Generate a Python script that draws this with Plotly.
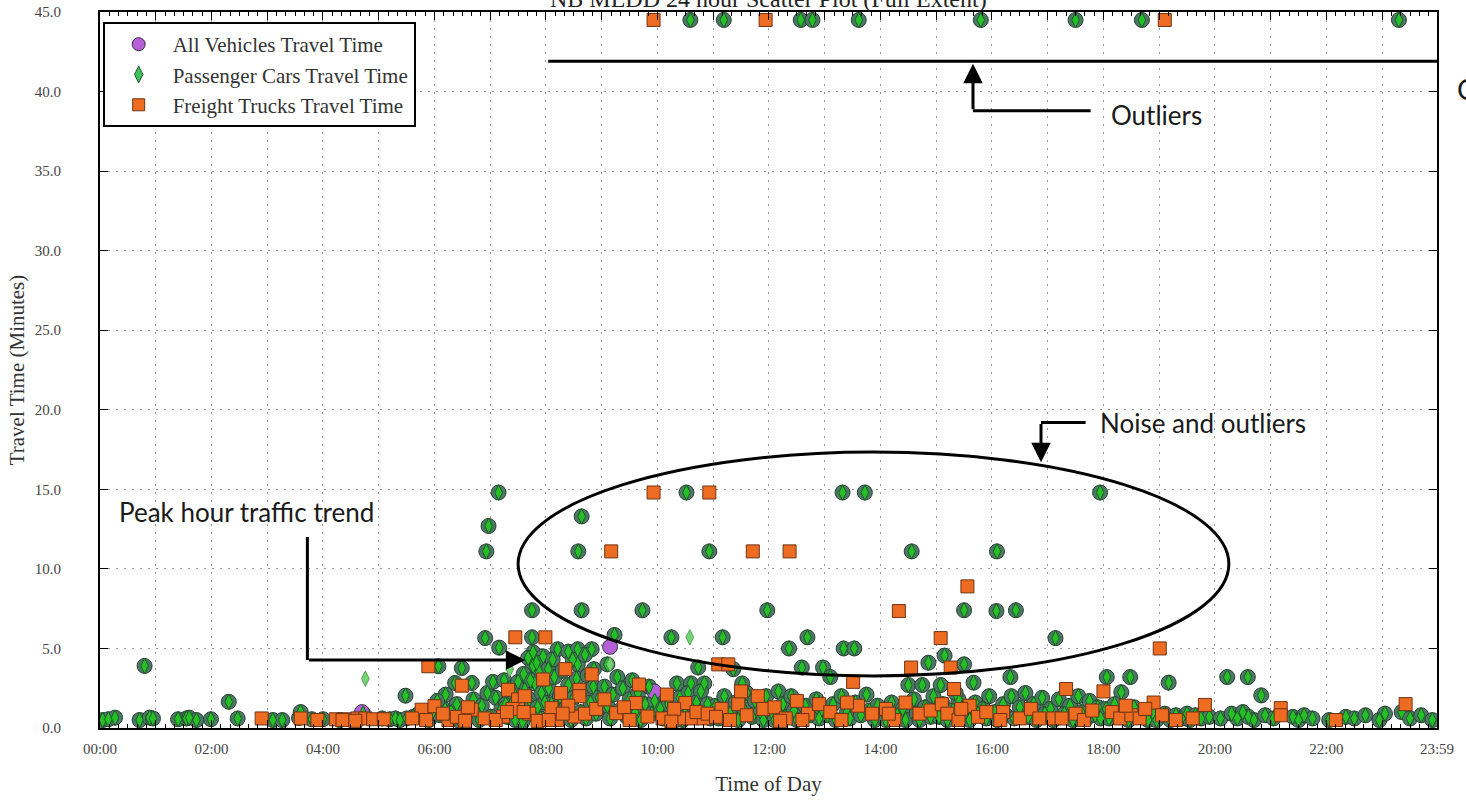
import plotly.graph_objects as go

# ---------------- data (time of day in decimal hours, travel time in minutes) ----------------
# points where All Vehicles and Passenger Cars coincide
common_hours = [
    0.05, 0.15, 0.27, 0.71, 0.80, 0.89, 0.95,
    1.40, 1.55, 1.60, 1.73, 1.99, 2.31, 2.47,
    3.10, 3.27, 3.57, 3.60, 3.80,
    4.00, 4.30, 4.72, 5.06, 5.20, 5.30, 5.38, 5.48, 5.50, 5.62, 5.70, 5.80, 5.90, 5.95,
    6.07, 6.49, 6.37, 6.67, 6.19, 6.10, 6.25, 6.30, 6.40, 6.45, 6.55, 6.60, 6.70, 6.75, 6.80, 6.85,
    6.91, 6.93, 6.97, 6.95, 6.20, 6.05,
    7.15, 7.16, 7.75, 7.75, 7.77, 7.95, 7.68, 7.77, 7.05, 7.10, 7.20, 7.25, 7.30, 7.35, 7.40, 7.45,
    7.50, 7.55, 7.60, 7.62, 7.65, 7.70, 7.80, 7.85, 7.88, 7.90, 7.92, 7.98, 7.02, 7.28, 7.42, 7.58,
    7.72, 7.83,
    8.04, 8.21, 8.40, 8.57, 8.57, 8.58, 8.64, 8.64, 8.82, 8.86, 8.05, 8.10, 8.15, 8.20, 8.25, 8.30,
    8.35, 8.40, 8.45, 8.50, 8.55, 8.62, 8.68, 8.72, 8.75, 8.80, 8.85, 8.90, 8.95, 8.12, 8.48, 8.70,
    9.10, 9.23, 9.73, 9.05, 9.10, 9.15, 9.20, 9.28, 9.32, 9.38, 9.45, 9.50, 9.55, 9.60, 9.65, 9.70,
    9.78, 9.85, 9.90, 9.95,
    10.25, 10.52, 10.59, 10.35, 10.60, 10.73, 10.84, 10.05, 10.10, 10.15, 10.20, 10.30, 10.40, 10.45,
    10.50, 10.55, 10.65, 10.70, 10.78, 10.80, 10.90, 10.93, 10.95,
    11.17, 11.19, 11.36, 11.52, 11.97, 11.05, 11.10, 11.20, 11.30, 11.40, 11.45, 11.55, 11.60, 11.70,
    11.75, 11.85, 11.90, 11.95,
    12.36, 12.69, 12.59, 12.97, 12.17, 12.57, 12.78, 12.05, 12.10, 12.25, 12.30, 12.40, 12.45, 12.50,
    12.65, 12.75, 12.85, 12.90, 12.95,
    13.32, 13.72, 13.34, 13.53, 13.10, 13.61, 13.05, 13.15, 13.20, 13.30, 13.40, 13.45, 13.55, 13.65,
    13.75, 13.80, 13.90, 13.95,
    14.56, 14.50, 14.75, 14.86, 14.05, 14.10, 14.20, 14.30, 14.40, 14.45, 14.60, 14.65, 14.70, 14.80,
    14.90, 14.95,
    15.50, 15.50, 15.15, 15.67, 15.08, 15.80, 15.05, 15.12, 15.20, 15.30, 15.40, 15.45, 15.55, 15.60,
    15.70, 15.75, 15.85, 15.90, 15.95, 15.35,
    16.08, 16.43, 16.09, 16.33, 16.05, 16.10, 16.20, 16.25, 16.35, 16.40, 16.50, 16.60, 16.65, 16.75,
    16.80, 16.90, 16.95,
    17.14, 17.50, 17.94, 17.05, 17.10, 17.20, 17.30, 17.40, 17.45, 17.55, 17.60, 17.70, 17.75, 17.85,
    17.90, 17.95,
    18.06, 18.48, 18.32, 18.69, 18.05, 18.10, 18.20, 18.25, 18.35, 18.45, 18.55, 18.60, 18.70, 18.80,
    18.90, 18.95,
    19.17, 19.10, 19.20, 19.30, 19.40, 19.50, 19.55, 19.65, 19.75, 19.90,
    20.22, 20.59, 20.83, 20.10, 20.30, 20.40, 20.50, 20.60, 20.70, 20.90,
    21.05, 21.40, 21.50, 21.60, 21.75,
    22.05, 22.35, 22.50, 22.70, 22.95, 23.05, 23.30, 23.35, 23.50, 23.70, 23.90,
]
common_minutes = [
    0.50, 0.55, 0.65, 0.50, 3.90, 0.65, 0.60,
    0.55, 0.60, 0.65, 0.50, 0.55, 1.65, 0.60,
    0.50, 0.50, 0.63, 1.00, 0.55,
    0.55, 0.50, 0.90, 0.60, 0.55, 0.60, 0.50, 2.03, 0.60, 0.70, 0.85, 0.60, 0.50, 0.90,
    3.88, 3.77, 2.83, 2.83, 1.15, 0.80, 0.60, 1.00, 1.50, 0.45, 1.20, 0.70, 1.80, 1.00, 0.50, 1.40,
    5.65, 11.10, 12.70, 2.20, 2.10, 1.70,
    14.80, 5.05, 7.40, 5.70, 4.75, 4.50, 4.40, 3.90, 2.90, 1.90, 1.20, 3.00, 0.70, 2.50, 1.60, 0.50,
    2.90, 1.10, 3.40, 2.40, 0.80, 1.80, 2.80, 1.30, 3.50, 0.60, 2.20, 1.60, 0.70, 1.50, 2.20, 0.40,
    3.00, 4.10,
    3.70, 4.95, 4.80, 4.95, 4.00, 11.10, 13.30, 7.40, 4.95, 3.70, 2.50, 1.50, 3.20, 0.80, 2.00, 3.60,
    1.20, 2.70, 0.50, 1.90, 3.10, 1.00, 2.30, 0.60, 3.30, 1.60, 2.60, 0.90, 1.90, 4.30, 4.30, 4.60,
    4.00, 5.85, 7.40, 2.60, 1.40, 0.60, 2.10, 3.20, 1.10, 2.50, 0.70, 1.80, 3.00, 1.00, 2.20, 0.50,
    1.50, 2.60, 0.90, 1.70,
    5.70, 14.80, 44.50, 2.80, 2.80, 3.80, 2.80, 1.20, 0.60, 2.00, 1.50, 0.80, 1.90, 0.50,
    1.30, 2.20, 0.70, 1.60, 2.30, 0.90, 1.50, 11.10, 0.60,
    5.70, 44.50, 3.70, 2.80, 7.40, 1.40, 0.60, 2.00, 0.90, 1.60, 0.50, 1.20, 2.20, 0.70,
    1.70, 1.00, 0.50, 2.00,
    5.00, 5.70, 3.80, 3.80, 2.30, 44.50, 44.50, 1.00, 0.50, 1.50, 0.70, 2.00, 1.10, 0.50,
    1.40, 0.80, 1.80, 0.60, 1.20,
    14.80, 14.80, 5.00, 5.00, 3.20, 44.50, 0.80, 1.50, 0.50, 2.00, 1.00, 0.60, 1.60, 0.80,
    2.10, 1.10, 0.50, 1.40,
    11.10, 2.70, 2.70, 4.10, 1.00, 0.50, 1.60, 0.80, 1.20, 0.50, 1.80, 0.90, 0.50, 1.30,
    0.70, 2.00,
    7.40, 4.00, 4.55, 2.85, 2.70, 44.50, 0.70, 1.50, 0.50, 1.10, 1.80, 0.60, 1.30, 0.50,
    1.60, 0.90, 1.20, 0.60, 2.00, 2.20,
    7.35, 7.40, 11.10, 3.20, 1.00, 0.50, 1.50, 0.80, 2.00, 0.60, 1.30, 2.20, 0.70, 1.50,
    0.50, 1.90, 0.90,
    5.65, 44.50, 14.80, 1.20, 0.50, 1.80, 0.90, 1.40, 0.50, 2.00, 1.00, 0.60, 1.70, 0.80,
    1.30, 0.60,
    3.20, 3.20, 2.25, 44.50, 1.20, 0.60, 1.50, 0.80, 1.00, 0.50, 1.30, 0.70, 1.10, 0.50,
    0.90, 0.50,
    2.85, 0.90, 0.50, 0.80, 0.60, 0.90, 0.50, 0.80, 0.60, 0.70,
    3.20, 3.20, 2.05, 0.60, 0.90, 0.60, 1.00, 0.70, 0.50, 0.80,
    0.60, 0.70, 0.50, 0.80, 0.60,
    0.50, 0.70, 0.60, 0.80, 0.50, 0.90, 44.50, 1.00, 0.60, 0.80, 0.50,
]

# All Vehicles points without a matching Passenger Cars point
all_only_hours = [4.70, 9.15, 9.94]
all_only_minutes = [1.00, 5.10, 2.30]

# Passenger Cars points without a matching All Vehicles point
car_only_hours = [4.76, 7.35, 9.15, 10.58]
car_only_minutes = [3.10, 3.70, 4.00, 5.70]

# Freight Trucks
truck_hours = [
    2.90, 3.60, 3.90, 4.23, 4.46, 4.62, 4.76, 4.90, 5.09, 4.35, 4.58,
    5.77, 5.89, 6.00, 5.60, 5.85,
    6.49, 6.25, 6.67, 6.15, 6.40, 6.60, 6.90, 6.55,
    7.45, 7.99, 7.95, 7.32, 7.50, 7.62, 7.23, 7.10, 7.40, 7.70, 7.85, 7.60, 7.30,
    8.35, 8.82, 8.27, 8.60, 8.60, 8.10, 8.51, 8.20, 8.40, 8.70, 8.90, 8.30, 8.05,
    9.17, 9.93, 9.67, 9.05, 9.26, 9.61, 9.82, 9.40, 9.50, 9.93,
    10.17, 10.50, 10.09, 10.42, 10.62, 10.83, 10.93, 10.30, 10.70, 10.25, 10.90,
    11.09, 11.27, 11.71, 11.94, 11.15, 11.30, 11.45, 11.60, 11.80, 11.90, 11.50, 11.05,
    12.37, 12.10, 12.30, 12.50, 12.70, 12.90, 12.20, 12.60,
    13.51, 13.10, 13.30, 13.60, 13.85, 13.40,
    14.33, 14.55, 14.10, 14.25, 14.45, 14.70, 14.90, 14.15,
    15.56, 15.08, 15.26, 15.32, 15.10, 15.20, 15.40, 15.60, 15.75, 15.90, 15.45,
    16.20, 16.50, 16.70, 16.85, 16.15,
    17.33, 17.10, 17.25, 17.50, 17.65, 17.80,
    18.00, 18.90, 18.15, 18.30, 18.50, 18.65, 18.75, 18.40,
    19.01, 19.10, 19.82, 19.05, 19.60, 19.30,
    21.18, 21.18, 22.17, 23.42,
]
truck_minutes = [
    0.60, 0.60, 0.50, 0.55, 0.55, 0.60, 0.60, 0.55, 0.55, 0.50, 0.45,
    1.15, 3.88, 1.37, 0.60, 0.50,
    2.66, 0.50, 1.15, 0.90, 0.70, 1.30, 0.60, 0.45,
    5.70, 5.70, 3.05, 2.40, 1.80, 2.00, 0.72, 0.50, 1.20, 0.90, 0.45, 1.00, 1.00,
    3.70, 3.37, 2.20, 2.40, 2.00, 1.25, 0.72, 0.50, 1.40, 0.90, 1.20, 0.90, 0.50,
    11.10, 14.80, 2.73, 1.80, 0.93, 1.57, 0.72, 1.30, 0.50, 44.50,
    2.10, 1.57, 0.60, 0.60, 0.60, 0.60, 14.80, 1.20, 1.00, 0.40, 0.90,
    4.00, 4.00, 11.10, 44.50, 1.20, 0.50, 1.50, 0.80, 2.00, 1.20, 2.30, 0.70,
    11.10, 1.30, 0.60, 1.70, 0.90, 1.50, 0.45, 0.50,
    2.90, 1.00, 0.50, 1.40, 0.90, 1.60,
    7.35, 3.80, 1.20, 0.50, 1.60, 0.90, 1.10, 0.90,
    8.90, 5.65, 3.80, 2.45, 1.50, 0.90, 0.50, 1.40, 0.70, 1.00, 1.20,
    1.00, 0.60, 1.20, 0.60, 0.50,
    2.45, 0.60, 0.60, 0.90, 0.50, 1.10,
    2.30, 1.60, 1.00, 0.60, 0.80, 0.60, 1.20, 1.40,
    5.00, 44.50, 1.45, 0.80, 0.60, 0.50,
    1.25, 0.80, 0.50, 1.50,
]

x_tick_hours = list(range(24)) + [23 + 59 / 60]
x_tick_labels = ["00:00", "", "02:00", "", "04:00", "", "06:00", "", "08:00", "", "10:00", "",
                 "12:00", "", "14:00", "", "16:00", "", "18:00", "", "20:00", "", "22:00", "", "23:59"]
y_tick_values = [0, 5, 10, 15, 20, 25, 30, 35, 40, 45]

series_names = ["All Vehicles Travel Time", "Passenger Cars Travel Time", "Freight Trucks Travel Time"]

# ---------------- styling ----------------
PURPLE = "#b660d8"
TEAL = "#4b7a64"
GREEN = "#25c025"
LIGHT_GREEN = "#74d474"
ORANGE = "#ee6b22"
SERIF = "Liberation Serif, DejaVu Serif, serif"
SANS = "Lato, Open Sans, sans-serif"

all_hours = common_hours + all_only_hours
all_minutes = common_minutes + all_only_minutes
all_colors = [TEAL] * len(common_hours) + [PURPLE] * len(all_only_hours)

car_hours = common_hours + car_only_hours
car_minutes = common_minutes + car_only_minutes
car_colors = [GREEN] * len(common_hours) + [LIGHT_GREEN] * len(car_only_hours)
car_lines = ["#1f5a2a"] * len(common_hours) + ["#58a058"] * len(car_only_hours)

fig = go.Figure()

fig.add_trace(go.Scatter(
    x=all_hours, y=all_minutes, mode="markers", name=series_names[0], showlegend=False,
    marker=dict(symbol="circle", size=15, color=all_colors, line=dict(color="#2c3d34", width=1)),
))
fig.add_trace(go.Scatter(
    x=car_hours, y=car_minutes, mode="markers", name=series_names[1], showlegend=False,
    marker=dict(symbol="diamond-tall", size=11, color=car_colors, line=dict(color=car_lines, width=1)),
))
fig.add_trace(go.Scatter(
    x=truck_hours, y=truck_minutes, mode="markers", name=series_names[2], showlegend=False,
    marker=dict(symbol="square", size=13, color=ORANGE, line=dict(color="#6e3414", width=1)),
))

# legend entries
legend_styles = [
    dict(symbol="circle", size=13, color=PURPLE, line=dict(color="#3a2a44", width=1)),
    dict(symbol="diamond-tall", size=12, color="#3fbf5f", line=dict(color="#1f5a2a", width=1)),
    dict(symbol="square", size=12, color=ORANGE, line=dict(color="#6e3414", width=1)),
]
for i, (nm, st) in enumerate(zip(series_names, legend_styles)):
    fig.add_trace(go.Scatter(x=[None], y=[None], mode="markers", name=nm, marker=st,
                             showlegend=True, legendgroup=f"g{i}"))

# ---------------- callout annotations ----------------
shapes = [
    dict(type="line", xref="x", yref="y", x0=8.04, x1=24.0, y0=41.9, y1=41.9,
         line=dict(color="black", width=3)),
    dict(type="line", xref="x", yref="y", x0=15.66, x1=17.77, y0=38.8, y1=38.8,
         line=dict(color="black", width=3)),
    dict(type="line", xref="x", yref="y", x0=16.88, x1=17.68, y0=19.2, y1=19.2,
         line=dict(color="black", width=3)),
    dict(type="line", xref="x", yref="y", x0=3.72, x1=3.72, y0=12.0, y1=4.27,
         line=dict(color="black", width=3)),
    dict(type="circle", xref="x", yref="y", x0=7.50, x1=20.25, y0=3.27, y1=17.34,
         line=dict(color="black", width=3)),
]

annotations = [
    dict(x=15.66, y=41.75, ax=15.66, ay=38.8, xref="x", yref="y", axref="x", ayref="y",
         showarrow=True, arrowhead=2, arrowsize=1.3, arrowwidth=3, arrowcolor="black", text=""),
    dict(x=16.88, y=16.7, ax=16.88, ay=19.2, xref="x", yref="y", axref="x", ayref="y",
         showarrow=True, arrowhead=2, arrowsize=1.3, arrowwidth=3, arrowcolor="black", text=""),
    dict(x=7.63, y=4.27, ax=3.72, ay=4.27, xref="x", yref="y", axref="x", ayref="y",
         showarrow=True, arrowhead=2, arrowsize=1.3, arrowwidth=3, arrowcolor="black", text=""),
    dict(x=18.1, y=38.5, xref="x", yref="y", text="Outliers", showarrow=False,
         xanchor="left", yanchor="middle", font=dict(family=SANS, size=26, color="#1a1a1a")),
    dict(x=17.9, y=19.2, xref="x", yref="y", text="Noise and outliers", showarrow=False,
         xanchor="left", yanchor="middle", font=dict(family=SANS, size=26, color="#1a1a1a")),
    dict(x=0.30, y=13.57, xref="x", yref="y", text="Peak hour traffic trend", showarrow=False,
         xanchor="left", yanchor="middle", font=dict(family=SANS, size=26, color="#1a1a1a")),
    dict(x=0.5, y=1, xref="paper", yref="paper", text="NB MLDD 24 hour Scatter Plot (Full Extent)",
         showarrow=False, xanchor="center", yanchor="bottom", yshift=-2,
         font=dict(family=SERIF, size=24, color="#222")),
    dict(x=1, y=0.893, xref="paper", yref="paper", text="C", showarrow=False,
         xanchor="left", yanchor="middle", xshift=18, font=dict(family=SANS, size=28, color="#1a1a1a")),
]

fig.update_layout(
    width=1466, height=801,
    margin=dict(l=100, r=29, t=12, b=73, autoexpand=False),
    paper_bgcolor="white", plot_bgcolor="white",
    showlegend=True,
    legend=dict(x=0.002, y=0.986, xanchor="left", yanchor="top", bgcolor="white",
                bordercolor="black", borderwidth=2,
                font=dict(family=SERIF, size=21, color="#333"), itemwidth=58, tracegroupgap=0),
    shapes=shapes, annotations=annotations,
)

grid_dash = "2px,6px"
fig.update_xaxes(
    range=[0, 23 + 59 / 60], tickmode="array", tickvals=x_tick_hours, ticktext=x_tick_labels,
    ticks="inside", ticklen=8, tickcolor="black", tickwidth=1,
    showline=True, linecolor="black", linewidth=2, mirror="ticks",
    showgrid=True, gridcolor="#9a9a9a", griddash=grid_dash, gridwidth=1.3,
    zeroline=False, automargin=False,
    minor=dict(tickmode="linear", tick0=0, dtick=1 / 6, ticks="inside", ticklen=4,
               tickcolor="black", showgrid=False),
    tickfont=dict(family=SERIF, size=15, color="#444"),
    ticklabelstandoff=6,
    title=dict(text="Time of Day", font=dict(family=SERIF, size=21, color="#333"), standoff=20),
)
fig.update_yaxes(
    range=[0, 45], tickmode="array", tickvals=y_tick_values,
    ticktext=[f"{v:.1f}" for v in y_tick_values],
    ticks="inside", ticklen=8, tickcolor="black", tickwidth=1,
    showline=True, linecolor="black", linewidth=2, mirror="ticks",
    showgrid=True, gridcolor="#9a9a9a", griddash=grid_dash, gridwidth=1.3,
    zeroline=False, automargin=False,
    tickfont=dict(family=SERIF, size=15, color="#444"),
    ticklabelstandoff=34,
    title=dict(text="Travel Time (Minutes)", font=dict(family=SERIF, size=21, color="#333"), standoff=4),
)

fig.write_html("out.html", include_plotlyjs=True, full_html=True,
               config={"displayModeBar": False},
               post_script="document.body.style.margin='0px';document.body.style.overflow='hidden';")
